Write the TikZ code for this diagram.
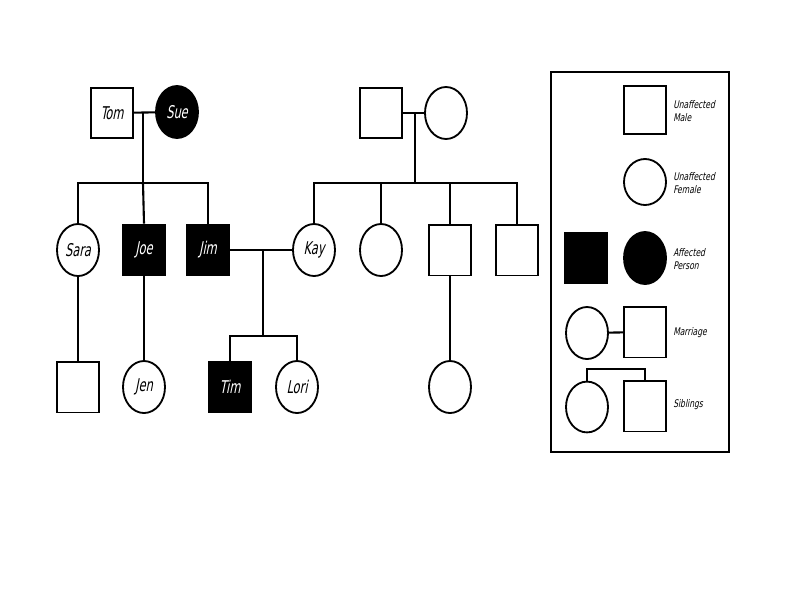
\documentclass[tikz,border=0pt]{standalone}
\usepackage{fontspec}
\usetikzlibrary{shapes.geometric}
\newfontfamily\pfont[FakeSlant=0.2,FakeStretch=0.72]{DejaVu Sans Condensed}
\newfontfamily\lfont[FakeSlant=0.2,FakeStretch=0.8]{DejaVu Sans Condensed}
\begin{document}
\begin{tikzpicture}[x=0.025cm,y=-0.025cm,
  person/.style={draw=black,line width=1.3pt,inner sep=0pt,font=\pfont\fontsize{12.5}{13}\selectfont},
  malebox/.style={person,rectangle,fill=white,minimum width=1.03cm,minimum height=1.27cm},
  femalebox/.style={person,ellipse,fill=white,minimum width=1.05cm,minimum height=1.3cm},
  affmale/.style={malebox,fill=black,text=white},
  afffemale/.style={femalebox,fill=black,text=white},
  link/.style={line width=1.5pt},
  legtext/.style={anchor=west,align=left,inner sep=0pt,font=\lfont\fontsize{7.5}{8.7}\selectfont}]
\useasboundingbox (0,0) rectangle (800,600);

% generation 1
\node[malebox] (tom) at (112,113) {Tom};
\node[afffemale] (sue) at (177,112) {Sue};
\node[malebox] (rp) at (381,113) {};
\node[femalebox] (rf) at (446,113) {};
\coordinate (mA) at (143,113);
\coordinate (sA) at (143,183);
\coordinate (mB) at (415,113);
\coordinate (sB) at (415,183);

% generation 2
\node[femalebox] (sara) at (78,250) {Sara};
\node[affmale] (joe) at (144,250) {Joe};
\node[affmale] (jim) at (208,250) {Jim};
\node[femalebox] (kay) at (314,250) {Kay};
\node[femalebox] (f2) at (381,250) {};
\node[malebox] (m2) at (450,250) {};
\node[malebox] (m3) at (517,250) {};
\coordinate (mC) at (263,250);
\coordinate (sC) at (263,336);

% generation 3
\node[malebox] (c1) at (78,387) {};
\node[femalebox] (jen) at (144,387) {Jen};
\node[affmale] (tim) at (230,387) {Tim};
\node[femalebox] (lori) at (297,387) {Lori};
\node[femalebox] (c5) at (450,387) {};

% connectors
\draw[link] (tom) -- (sue);
\draw[link] (mA) -- (sA);
\draw[link] (sara.north) |- (sA) -| (jim.north);
\draw[link] (sA) -- (joe.north);
\draw[link] (rp) -- (rf);
\draw[link] (mB) -- (sB);
\draw[link] (kay.north) |- (sB) -| (m3.north);
\draw[link] (f2.north) -- (f2.north |- sB);
\draw[link] (m2.north) -- (m2.north |- sB);
\draw[link] (jim) -- (kay);
\draw[link] (mC) -- (sC);
\draw[link] (tim.north) |- (sC) -| (lori.north);
\draw[link] (sara) -- (c1);
\draw[link] (joe) -- (jen);
\draw[link] (m2) -- (c5);

% legend
\node[draw=black,line width=1.6pt,minimum width=4.45cm,minimum height=9.5cm,inner sep=0pt] (legend) at (640,262) {};
\node[malebox,minimum height=1.22cm] (lm) at (645,110) {};
\node[legtext] (lmt) at (673,111) {Unaffected\\Male};
\node[femalebox,minimum height=1.15cm] (lf) at (645,182) {};
\node[legtext] (lft) at (673,183) {Unaffected\\Female};
\node[affmale] (am) at (586,258) {};
\node[afffemale] (af) at (645,258) {};
\node[legtext] (apt) at (673,259) {Affected\\Person};
\node[femalebox] (mf) at (587,333) {};
\node[malebox] (mm) at (645,332) {};
\draw[link] (mf) -- (mm);
\node[legtext] (mt) at (673,333) {Marriage};
\node[femalebox,minimum height=1.27cm] (sf) at (587,407) {};
\node[malebox] (sm) at (645,406) {};
\coordinate (sL) at (587,369);
\draw[link] (sf.north) |- (sL) -| (sm.north);
\node[legtext] (st) at (673,405) {Siblings};
\end{tikzpicture}
\end{document}
